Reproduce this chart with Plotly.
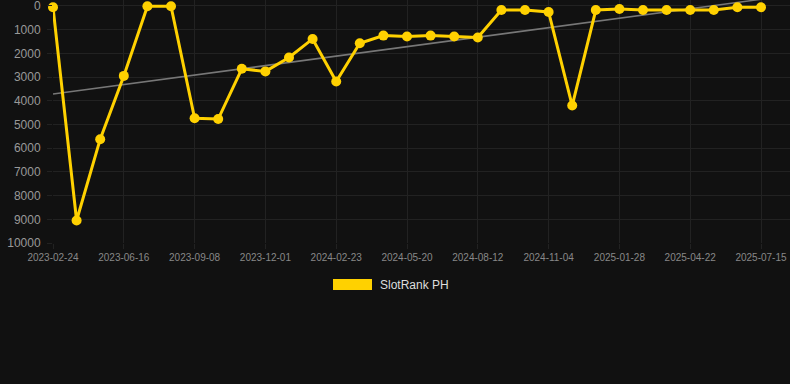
import numpy as np
import plotly.graph_objects as go

dates = [
    "2023-02-24", "2023-04-21", "2023-05-19", "2023-06-16", "2023-07-14", "2023-08-11",
    "2023-09-08", "2023-10-06", "2023-11-03", "2023-12-01", "2023-12-29", "2024-01-26",
    "2024-02-23", "2024-03-22", "2024-04-19", "2024-05-20", "2024-06-17", "2024-07-15",
    "2024-08-12", "2024-09-09", "2024-10-07", "2024-11-04", "2024-12-02", "2024-12-31",
    "2025-01-28", "2025-02-25", "2025-03-25", "2025-04-22", "2025-05-20", "2025-06-17",
    "2025-07-15",
]
ranks = [
    50, 9050, 5620, 2950, 10, 10,
    4740, 4770, 2650, 2760, 2175, 1390,
    3185, 1570, 1250, 1290, 1250, 1290,
    1330, 170, 170, 250, 4200, 170,
    125, 170, 170, 170, 170, 55,
    55,
]
y_ticks = [0, 1000, 2000, 3000, 4000, 5000, 6000, 7000, 8000, 9000, 10000]
series_name = "SlotRank PH"

idx = np.arange(len(ranks))
slope, intercept = np.polyfit(idx, ranks, 1)
trend = [intercept, intercept + slope * idx[-1]]

W, H = 790, 384
L, R, T, B = 53, 0, 0, 141
pw, ph = W - L - R, H - T - B

yellow = "#FFD100"
grid = "#222222"

fig = go.Figure()
fig.add_trace(go.Scatter(
    x=[idx[0], idx[-1]], y=trend, mode="lines",
    line=dict(color="#777777", width=1.6), hoverinfo="skip", showlegend=False,
))
fig.add_trace(go.Scatter(
    x=idx, y=ranks, mode="lines+markers", name=series_name,
    line=dict(color=yellow, width=3),
    marker=dict(color=yellow, size=10),
    cliponaxis=False, showlegend=False,
))

tick_idx = list(range(0, len(dates), 3))
px_per = 23.6
x_max = (pw) / px_per
fig.update_xaxes(
    range=[0, x_max], tickmode="array", tickvals=tick_idx,
    ticktext=[dates[i] for i in tick_idx],
    showgrid=True, gridcolor=grid, gridwidth=1, zeroline=False,
    ticks="outside", ticklen=5, tickcolor=grid,
    tickfont=dict(family="Liberation Sans, Arial", size=10, color="#888888"),
    showline=False, tickangle=0, ticklabeloverflow="allow",
)
y_top = -6 * 10000 / 237.3
fig.update_yaxes(
    range=[10000, y_top], tickmode="array", tickvals=y_ticks,
    ticktext=[str(v) for v in y_ticks],
    showgrid=True, gridcolor=grid, gridwidth=1, zeroline=False,
    ticks="outside", ticklen=5, tickcolor=grid, ticklabelstandoff=4,
    tickfont=dict(family="Liberation Sans, Arial", size=12, color="#999999"),
    showline=False, ticklabeloverflow="allow",
)

def px_x(p):
    return (p - L) / pw

def px_y(p):
    return (H - B - p) / ph

fig.add_shape(type="rect", xref="paper", yref="paper",
              x0=px_x(333), x1=px_x(372), y0=px_y(290), y1=px_y(279),
              fillcolor=yellow, line=dict(width=0))
fig.add_annotation(xref="paper", yref="paper", x=px_x(378), y=px_y(284.5),
                   text=series_name, showarrow=False, xanchor="left", yanchor="middle",
                   font=dict(family="Liberation Sans, Arial", size=12, color="#dddddd"))

fig.update_layout(
    width=W, height=H, margin=dict(l=L, r=R, t=T, b=B, pad=0),
    paper_bgcolor="#111111", plot_bgcolor="#111111",
    showlegend=False, hovermode=False,
)
fig.write_html("out.html", config={"displayModeBar": False},
               post_script="document.body.style.margin='0';document.body.style.background='#111111';")
